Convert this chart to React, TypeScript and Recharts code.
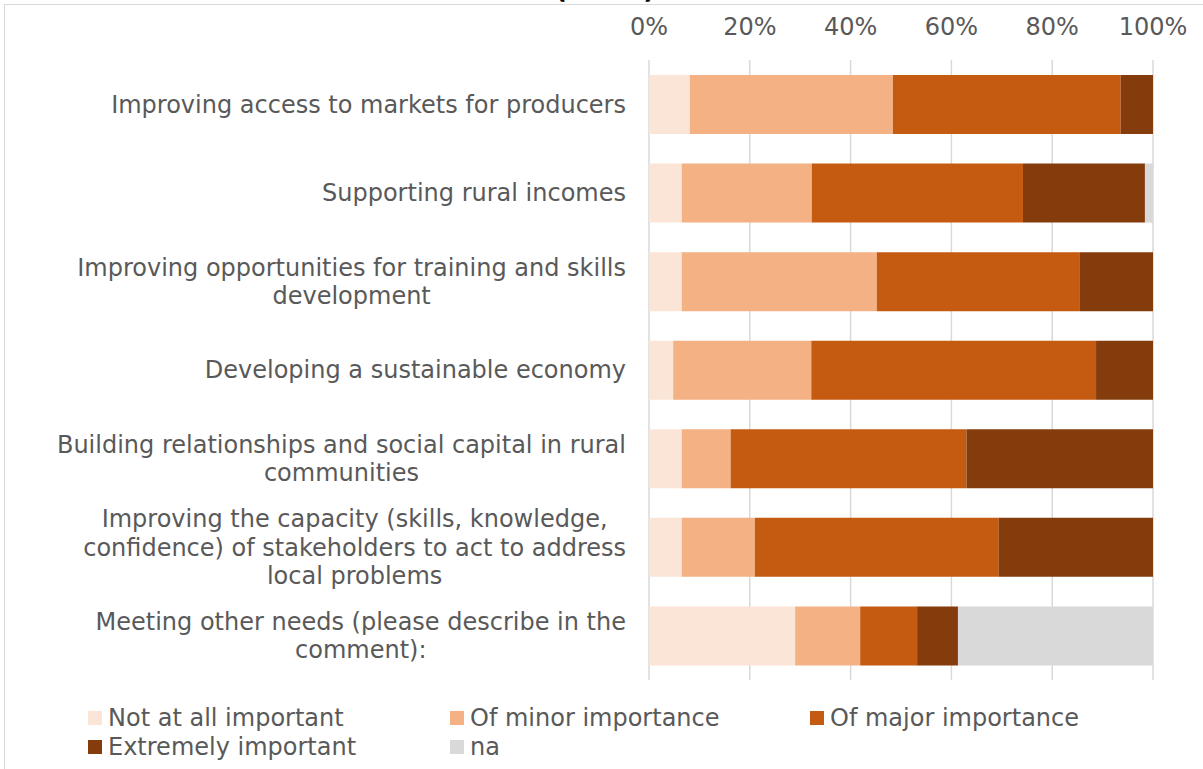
import React from 'react';
import { BarChart, Bar, XAxis, YAxis, CartesianGrid } from 'recharts';

const categories = [
  'Improving access to markets for producers',
  'Supporting rural incomes',
  'Improving opportunities for training and skills\ndevelopment',
  'Developing a sustainable economy',
  'Building relationships and social capital in rural\ncommunities',
  'Improving the capacity (skills, knowledge,\nconfidence) of stakeholders to act to address\nlocal problems',
  'Meeting other needs (please describe in the\ncomment):',
];

const notAtAll = [8.1, 6.5, 6.5, 4.8, 6.5, 6.5, 29.0];
const minor = [40.3, 25.8, 38.7, 27.4, 9.7, 14.5, 12.9];
const major = [45.2, 41.9, 40.3, 56.5, 46.8, 48.4, 11.3];
const extreme = [6.4, 24.2, 14.5, 11.3, 37.0, 30.6, 8.1];
const na = [0, 1.6, 0, 0, 0, 0, 38.7];

const xTicks = [0, 20, 40, 60, 80, 100];

const seriesNames = ['Not at all important', 'Of minor importance', 'Of major importance', 'Extremely important', 'na'];
const seriesKeys = ['notAtAll', 'minor', 'major', 'extreme', 'na'];
const seriesColors = ['#FBE5D6', '#F4B183', '#C55A11', '#843C0C', '#D9D9D9'];

const data = categories.map((name, i) => ({
  name,
  notAtAll: notAtAll[i],
  minor: minor[i],
  major: major[i],
  extreme: extreme[i],
  na: na[i],
}));

const FONT = "'DejaVu Sans', Verdana, sans-serif";
const TEXT = '#595959';

let ctx: CanvasRenderingContext2D | null = null;
function measure(s: string): number {
  if (!ctx) {
    const c = document.createElement('canvas');
    ctx = c.getContext('2d');
  }
  if (!ctx) return s.length * 13;
  ctx.font = "24px 'DejaVu Sans'";
  return ctx.measureText(s).width;
}

function YTick(props: any) {
  const { x, y, payload } = props;
  const lines = String(payload.value).split('\n');
  const maxW = Math.max(...lines.map(measure));
  const cx = x - maxW / 2;
  const lh = 28.5;
  const start = y - ((lines.length - 1) * lh) / 2;
  return (
    <g>
      {lines.map((l, i) => (
        <text key={i} x={cx} y={start + i * lh} dy="0.35em" textAnchor="middle" fontSize={24} fill={TEXT} fontFamily={FONT}>
          {l}
        </text>
      ))}
    </g>
  );
}

function XTick(props: any) {
  const { x, payload } = props;
  return (
    <text x={x} y={27} dy="0.35em" textAnchor="middle" fontSize={24} fill={TEXT} fontFamily={FONT}>
      {payload.value + '%'}
    </text>
  );
}

const legendCols = [88, 450, 810];
const legendRows = [718, 747];

export default function App() {
  return (
    <div style={{ position: 'absolute', left: 0, top: 0, width: 1203, height: 769, background: '#fff', overflow: 'hidden', fontFamily: FONT }}>
      <div style={{ position: 'absolute', left: 4, top: 4, width: 1400, height: 1000, borderTop: '1.5px solid #D9D9D9', borderLeft: '1.5px solid #D9D9D9' }} />
      <div style={{ position: 'absolute', left: 505, width: 200, top: -26, height: 30, lineHeight: '30px', textAlign: 'center', fontWeight: 'bold', fontSize: 26, color: '#000' }}>
        (n=62)
      </div>
      <div style={{ position: 'absolute', left: 0, top: 0 }}>
        <BarChart width={1203} height={690} data={data} layout="vertical" margin={{ top: 0, right: 50, bottom: 10, left: 0 }} barSize={59}>
          <CartesianGrid horizontal={false} stroke="#D9D9D9" strokeWidth={1.5} />
          <XAxis type="number" orientation="top" domain={[0, 100]} allowDataOverflow ticks={xTicks} axisLine={false} tickLine={false} height={60} tick={<XTick />} interval={0} />
          <YAxis type="category" dataKey="name" width={649} axisLine={false} tickLine={false} tickSize={0} tickMargin={23} tick={<YTick />} interval={0} />
          {seriesKeys.map((k, i) => (
            <Bar key={k} dataKey={k} name={seriesNames[i]} stackId="a" fill={seriesColors[i]} isAnimationActive={false} />
          ))}
        </BarChart>
      </div>
      {seriesNames.map((n, i) => {
        const col = legendCols[i % 3];
        const row = legendRows[Math.floor(i / 3)];
        return (
          <div key={n} style={{ position: 'absolute', left: col, top: row - 15, height: 30, display: 'flex', alignItems: 'center' }}>
            <div style={{ width: 14, height: 14, background: seriesColors[i], marginRight: 6 }} />
            <span style={{ fontSize: 24, color: TEXT, lineHeight: '30px', whiteSpace: 'nowrap' }}>{n}</span>
          </div>
        );
      })}
    </div>
  );
}
